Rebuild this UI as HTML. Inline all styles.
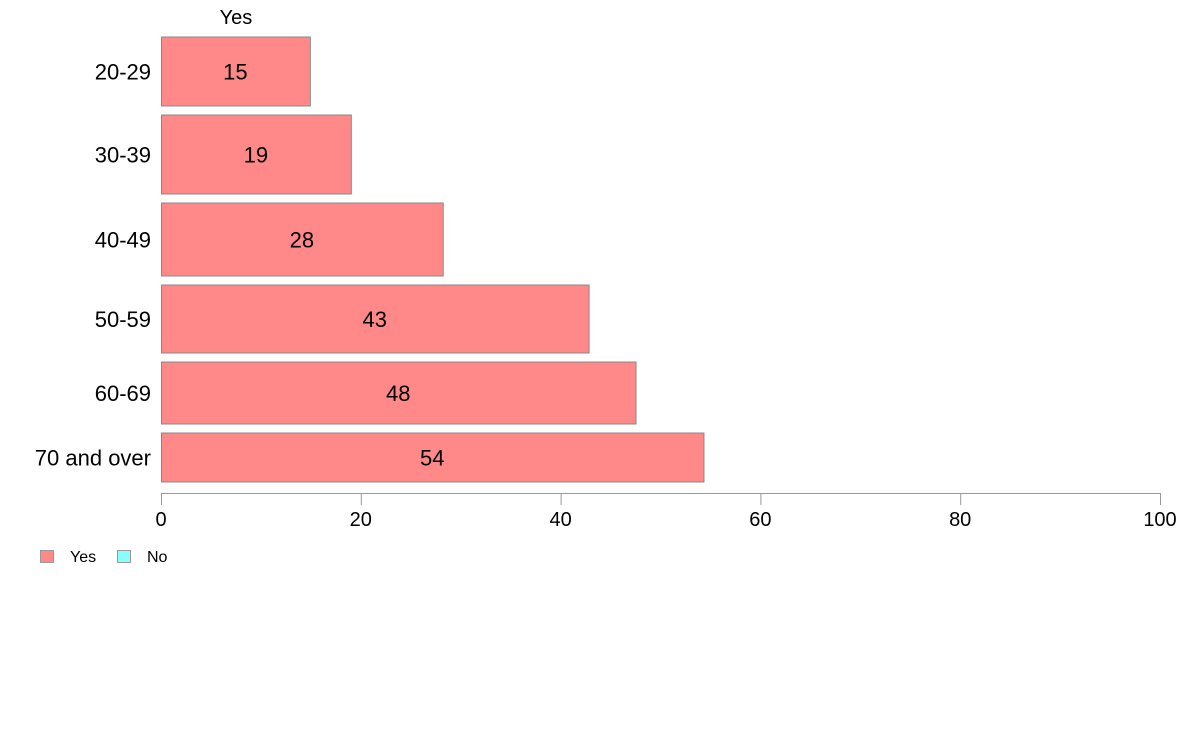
<!DOCTYPE html>
<html><head><meta charset="utf-8"><style>
body{margin:0;background:#fff;}
svg{font-family:"Liberation Sans",Arial,sans-serif;}
</style></head><body>
<svg id="chart" width="1188" height="736">
<text x="236" y="24" font-size="20" text-anchor="middle">Yes</text>
<g id="bars"></g>
<g id="yaxis"></g>
<g id="xaxis"></g>
<g>
<rect x="40.5" y="550.5" width="13" height="12" fill="#ff8888" stroke="#999"/>
<text x="70" y="562" font-size="16">Yes</text>
<rect x="117.5" y="550.5" width="13" height="12" fill="#88ffff" stroke="#999"/>
<text x="147" y="562" font-size="16">No</text>
</g>
</svg>
<script>
const categories=["20-29","30-39","40-49","50-59","60-69","70 and over"];
const yesValues=[14.9,19.0,28.2,42.8,47.5,54.3];
const labels=["15","19","28","43","48","54"];
const rowWeights=[69,79,73,68,62,49];
const xTicks=[0,20,40,60,80,100];
const NS="http://www.w3.org/2000/svg";
const x0=161,x1=1160,xMax=100,yTop=37,yBottom=482,gap=9;
const xs=v=>x0+(v/xMax)*(x1-x0);
const totalW=rowWeights.reduce((a,b)=>a+b,0);
const unit=(yBottom-yTop-gap*(categories.length-1))/totalW;
const bars=document.getElementById('bars'),ya=document.getElementById('yaxis'),xa=document.getElementById('xaxis');
let yPos=yTop;
categories.forEach((c,i)=>{
 const h=rowWeights[i]*unit;
 const r=document.createElementNS(NS,'rect');
 r.setAttribute('x',x0+0.5);r.setAttribute('y',yPos);r.setAttribute('width',xs(yesValues[i])-x0);r.setAttribute('height',h);
 r.setAttribute('fill','#ff8888');r.setAttribute('stroke','#888');r.setAttribute('stroke-width','1');
 
 
 bars.appendChild(r);
 const t=document.createElementNS(NS,'text');
 t.setAttribute('x',(x0+xs(yesValues[i]))/2);t.setAttribute('y',yPos+h/2+8);t.setAttribute('font-size','22');t.setAttribute('text-anchor','middle');
 t.textContent=labels[i];
 
 
 bars.appendChild(t);
 const l=document.createElementNS(NS,'text');
 l.setAttribute('x',151);l.setAttribute('y',yPos+h/2+8);l.setAttribute('font-size','22');l.setAttribute('text-anchor','end');
 l.textContent=c;
 
 
 ya.appendChild(l);
 yPos+=h+gap;
});
const ax=document.createElementNS(NS,'line');
ax.setAttribute('x1',x0);ax.setAttribute('x2',x1);ax.setAttribute('y1',493.5);ax.setAttribute('y2',493.5);ax.setAttribute('stroke','#999');


xa.appendChild(ax);
xTicks.forEach(v=>{
 const tk=document.createElementNS(NS,'line');
 tk.setAttribute('x1',xs(v)+0.5);tk.setAttribute('x2',xs(v)+0.5);tk.setAttribute('y1',493);tk.setAttribute('y2',505);tk.setAttribute('stroke','#999');
 
 
 xa.appendChild(tk);
 const t=document.createElementNS(NS,'text');
 t.setAttribute('x',xs(v));t.setAttribute('y',526);t.setAttribute('font-size','20');t.setAttribute('text-anchor','middle');
 t.textContent=v;
 
 
 xa.appendChild(t);
});
</script>
</body></html>
